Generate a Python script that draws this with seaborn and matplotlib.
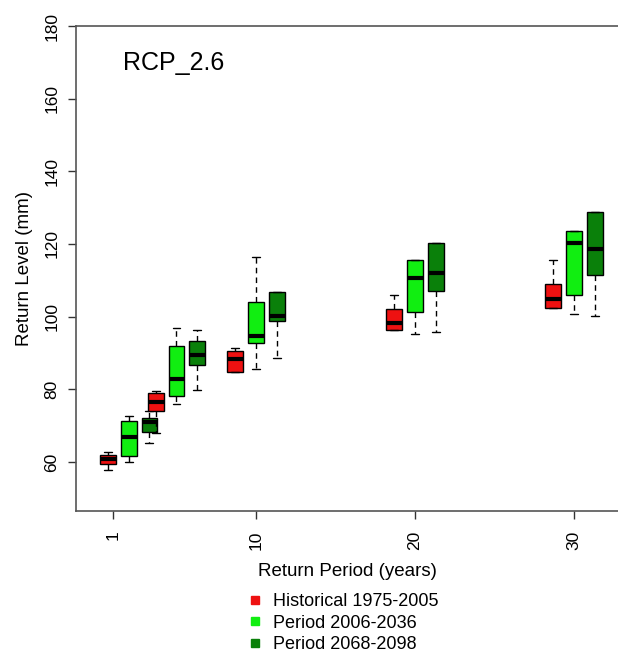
import numpy as np
import pandas as pd
import matplotlib
matplotlib.use('Agg')
import matplotlib.pyplot as plt
from matplotlib.lines import Line2D
import seaborn as sns

# Return periods (years) and climate periods
return_periods = [2, 5, 10, 20, 30]
periods = ['Historical 1975-2005', 'Period 2006-2036', 'Period 2068-2098']
offsets = [-1.3, 0.0, 1.3]
colors = ['#ee1111', '#11ee11', '#0a800a']

# Box summaries (mm): min, q1, median, q3, max per return period
hist_min = [57.8, 67.9, 84.8, 96.4, 102.5]
hist_q1 = [59.4, 73.9, 84.8, 96.4, 102.5]
hist_med = [60.7, 76.4, 88.3, 98.3, 104.9]
hist_q3 = [61.9, 79.1, 90.6, 102.2, 108.9]
hist_max = [62.8, 79.6, 91.3, 105.9, 115.6]

p1_min = [59.9, 76.0, 85.6, 95.1, 100.6]
p1_q1 = [61.7, 78.2, 92.8, 101.4, 106.0]
p1_med = [66.8, 82.9, 94.8, 110.7, 120.2]
p1_q3 = [71.4, 91.9, 104.1, 115.6, 123.5]
p1_max = [72.6, 96.8, 116.3, 115.6, 123.5]

p2_min = [65.3, 79.9, 88.7, 95.9, 100.2]
p2_q1 = [68.3, 86.8, 98.8, 107.1, 111.5]
p2_med = [70.9, 89.4, 100.3, 112.1, 118.6]
p2_q3 = [72.2, 93.2, 106.8, 120.4, 128.8]
p2_max = [74.1, 96.4, 106.8, 120.4, 128.8]

summaries = [
    (hist_min, hist_q1, hist_med, hist_q3, hist_max),
    (p1_min, p1_q1, p1_med, p1_q3, p1_max),
    (p2_min, p2_q1, p2_med, p2_q3, p2_max),
]

# Long table: five values per box, placed next to each return period
rows = []
for period, off, stats in zip(periods, offsets, summaries):
    for j, rp in enumerate(return_periods):
        for s in stats:
            rows.append({'pos': round(rp + off, 2), 'value': s[j], 'period': period})
df = pd.DataFrame(rows)

sns.set_style('ticks')
plt.rcParams['font.family'] = ['Liberation Sans', 'DejaVu Sans']
plt.rcParams['text.color'] = 'black'
plt.rcParams['axes.labelcolor'] = 'black'
plt.rcParams['xtick.color'] = 'black'
plt.rcParams['ytick.color'] = 'black'

fig = plt.figure(figsize=(6.18, 6.57), dpi=100)
ax = fig.add_axes([0.123, 0.2222, 0.877, 0.7382])

native = np.diff(np.unique(df['pos'])).min()
sns.boxplot(data=df, x='pos', y='value', hue='period', hue_order=periods,
            palette=colors, saturation=1, native_scale=True, dodge=False,
            width=1.0 / native, whis=(0, 100), linecolor='black', linewidth=1,
            fliersize=0, legend=False, ax=ax,
            medianprops={'color': 'black', 'linewidth': 3},
            whiskerprops={'linestyle': (0, (4, 3))},
            capprops={'linestyle': '-'})

# historical boxes sit on top where they touch the next group
if ax.containers:
    c = ax.containers[0]
    for name in ['boxes', 'whiskers', 'caps']:
        for a in getattr(c, name, []):
            a.set_zorder(3)
    for a in getattr(c, 'medians', []):
        a.set_zorder(3.1)

ax.set_xlim(-1.32, 32.77)
ax.set_ylim(46.5, 180)
ax.set_xticks([1, 10, 20, 30])
ax.set_xticklabels(['1', '10', '20', '30'], rotation=90)
ax.set_yticks(range(60, 181, 20))
ax.set_yticklabels([str(v) for v in range(60, 181, 20)], rotation=90, va='center')
ax.tick_params(axis='both', length=6, width=1, labelsize=12.5, color='#333333')
ax.tick_params(axis='x', pad=8)
ax.tick_params(axis='y', pad=6)

for side in ['left', 'bottom', 'top']:
    ax.spines[side].set_visible(True)
    ax.spines[side].set_linewidth(1.2)
    ax.spines[side].set_color('#555555')
ax.spines['right'].set_visible(False)

ax.set_xlabel('Return Period (years)', fontsize=13.5)
ax.xaxis.set_label_coords(0.5, -0.108)
ax.set_ylabel('Return Level (mm)', fontsize=13.5, labelpad=8)

ax.text(0.087, 0.91, 'RCP_2.6', transform=ax.transAxes, fontsize=18,
        ha='left', va='baseline')

handles = [Line2D([], [], marker='s', linestyle='', color=c, markersize=6) for c in colors]
fig.legend(handles=handles, labels=periods, loc='upper left',
           bbox_to_anchor=(250 / 618, 1 - 593 / 657), frameon=False, fontsize=13,
           handlelength=0.6, handletextpad=0.7, labelspacing=0.25,
           borderpad=0, borderaxespad=0)

fig.savefig('out.png', dpi=100)
